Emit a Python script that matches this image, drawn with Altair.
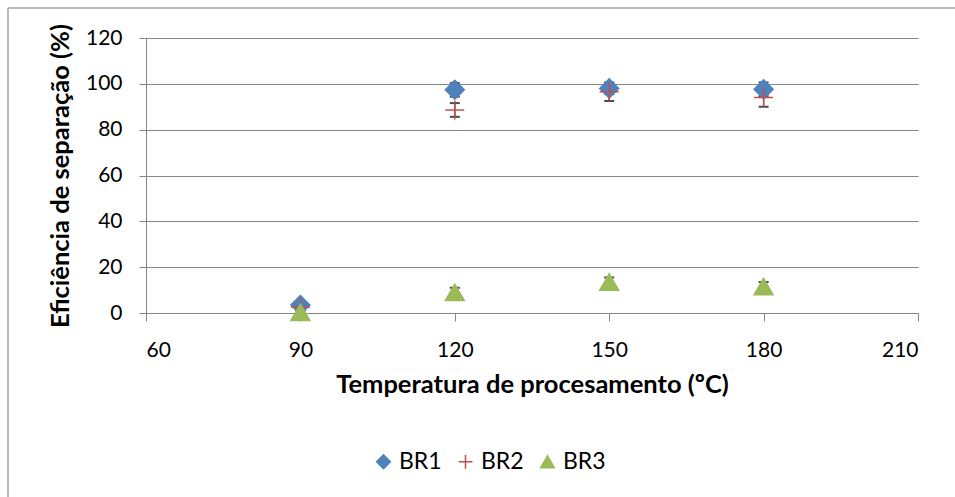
import altair as alt
import pandas as pd

# Processing temperatures (ºC)
temps = [90, 120, 150, 180]

# Separation efficiency (%) and error for each reactor
br1 = [3.5, 97.4, 98.0, 97.6]
br1_err = [1.5, 3.0, 2.5, 3.0]
br2 = [2.5, 88.6, 96.5, 94.0]
br2_err = [1.5, 3.0, 4.0, 4.0]
br3 = [0.3, 9.0, 13.5, 11.5]
br3_err = [1.0, 2.0, 2.0, 2.0]

series_names = ["BR1", "BR2", "BR3"]
series_colors = ["#4F81BD", "#C0504D", "#9BBB59"]
# diamond, thin plus, triangle
series_shapes = ["diamond", "M-1,0H1M0,-1V1", "triangle-up"]

rows = []
for name, vals, errs in zip(series_names, [br1, br2, br3], [br1_err, br2_err, br3_err]):
    for t, v, e in zip(temps, vals, errs):
        rows.append({"temp": t, "value": v, "lo": v - e, "hi": v + e, "series": name})
df = pd.DataFrame(rows)

FONT = "Lato"
GRID = "#868686"

x_enc = alt.X(
    "temp:Q",
    scale=alt.Scale(domain=[60, 210], nice=False, zero=False),
    axis=alt.Axis(
        title="Temperatura de procesamento (ºC)",
        values=[60, 90, 120, 150, 180, 210],
        grid=False,
        domainColor=GRID,
        tickColor=GRID,
        tickSize=8,
        labelPadding=18,
        titlePadding=12,
    ),
)
y_axis = alt.Axis(
    title="Eficiência de separação (%)",
    values=[0, 20, 40, 60, 80, 100, 120],
    grid=True,
    gridColor=GRID,
    domainColor=GRID,
    tickColor=GRID,
    tickSize=7,
    labelPadding=17,
    titlePadding=12,
)
y_scale = alt.Scale(domain=[0, 120], nice=False)

base = alt.Chart(df)

err_rule = base.mark_rule(color="black", strokeWidth=1.2).encode(
    x=x_enc,
    y=alt.Y("lo:Q", scale=y_scale, axis=y_axis),
    y2="hi:Q",
)
cap_lo = base.mark_tick(color="black", orient="horizontal", size=10, thickness=2).encode(
    x="temp:Q", y=alt.Y("lo:Q", scale=y_scale)
)
cap_hi = base.mark_tick(color="black", orient="horizontal", size=10, thickness=2).encode(
    x="temp:Q", y=alt.Y("hi:Q", scale=y_scale)
)

legend = alt.Legend(
    title=None,
    orient="none",
    direction="horizontal",
    legendX=226,
    legendY=412,
    labelFont=FONT,
    labelFontSize=23,
    labelColor="black",
    symbolSize=190,
    symbolStrokeWidth=1.5,
    columnPadding=12,
    labelOffset=4,
)
sc = alt.Scale(domain=series_names, range=series_colors)

points = base.mark_point(filled=True, size=360, strokeWidth=1.5, opacity=1).encode(
    x="temp:Q",
    y=alt.Y("value:Q", scale=y_scale),
    fill=alt.Fill("series:N", scale=sc, legend=legend, sort=series_names),
    stroke=alt.Stroke("series:N", scale=sc, legend=legend, sort=series_names),
    shape=alt.Shape(
        "series:N",
        scale=alt.Scale(domain=series_names, range=series_shapes),
        legend=legend,
        sort=series_names,
    ),
)

# chart frame (top and left edges)
frame_top = alt.Chart(pd.DataFrame({"k": [0]})).mark_rule(color="#A6A6A6", strokeWidth=1.5).encode(
    x=alt.value(-138), x2=alt.value(820), y=alt.value(-30)
)
frame_left = alt.Chart(pd.DataFrame({"k": [0]})).mark_rule(color="#A6A6A6", strokeWidth=1.5).encode(
    x=alt.value(-138), y=alt.value(-30), y2=alt.value(470)
)

chart = (
    alt.layer(frame_top, frame_left, err_rule, cap_lo, cap_hi, points)
    .properties(
        width=772,
        height=275,
        autosize=alt.AutoSizeParams(type="none"),
        padding={"left": 146, "top": 38, "right": 37, "bottom": 184},
    )
    .configure_view(stroke=None)
    .configure_axis(
        labelFont=FONT,
        labelFontSize=21,
        labelColor="black",
        titleFont=FONT,
        titleFontSize=25.5,
        titleFontWeight="bold",
        titleColor="black",
    )
)

chart.save("out.html", embed_options={"renderer": "svg", "actions": False})
